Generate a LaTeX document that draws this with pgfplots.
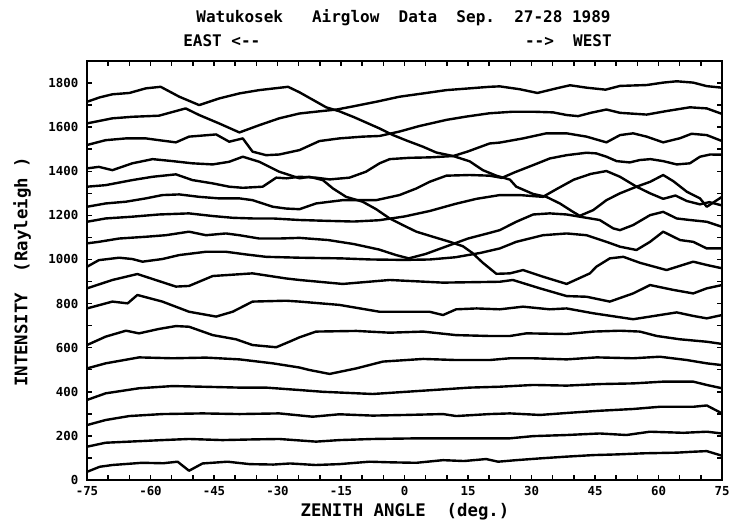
\documentclass[border=0pt]{standalone}
\usepackage{fontspec}
\setmainfont{DejaVu Sans Mono}
\usepackage{pgfplots}
\pgfplotsset{compat=1.18}
\begin{document}
\begin{tikzpicture}[x=1pt,y=1pt]
\useasboundingbox (-65.25,-33.75) rectangle (494.25,360);
\begin{axis}[at={(0,0)}, anchor=south west, scale only axis,
  width=476.25pt, height=314.25pt,
  xmin=-75, xmax=75, ymin=0, ymax=1900,
  xtick={-75,-60,...,75}, xticklabels={-75,-60,-45,-30,-15,0,15,30,45,60,75},
  minor xtick={-70,-65,...,70},
  ytick={0,200,...,1800}, yticklabels={0,200,400,600,800,1000,1200,1400,1600,1800},
  minor ytick={100,300,...,1700},
  tick align=inside, major tick length=4pt, minor tick length=4pt,
  every tick/.style={line width=1.1pt, black},
  axis line style={line width=1.5pt},
  ticklabel style={font=\fontsize{9.3}{10}\selectfont\bfseries},
  yticklabel style={xshift=-3pt},
  xticklabel style={yshift=-1.5pt},
  cycle list={{black,solid}},
  every axis plot/.append style={black, solid, line width=1.8pt, line join=round, no markers},
  clip=true]
% L1
\addplot coordinates {(-75,37) (-72,60) (-69,68) (-62,78) (-57,76) (-53.6,83) (-50.9,42) (-47.7,75) (-41.8,83) (-36.6,72) (-31,70) (-27,75) (-21,68) (-15.4,72) (-8.3,83) (-3,80) (2.8,78) (9.1,90) (14,86) (19.3,95) (22.1,83) (26.4,90) (32,98) (38.3,106) (44.6,113) (50.1,116) (56.4,121) (64.3,124) (68,128) (71.4,131) (75,110)};
% L2
\addplot coordinates {(-75,151) (-70.6,169) (-65,174) (-57.2,181) (-50.9,186) (-43,181) (-35.9,184) (-29.6,186) (-20.9,174) (-15.4,181) (-7.5,186) (3.6,189) (12.2,189) (24.9,189) (30.4,199) (38.3,204) (46.1,211) (52.4,204) (58,219) (65.9,214) (71.4,219) (75,211)};
% L3
\addplot coordinates {(-75,249) (-70.6,272) (-65,290) (-57.2,299) (-47.7,302) (-39,299) (-29.6,302) (-21.7,287) (-15.4,298) (-7.5,292) (0.4,295) (9.1,299) (12.2,290) (20.1,299) (24.9,302) (32,295) (39.1,305) (46.1,314) (54,322) (60.3,332) (68.2,332) (71.4,338) (75,302)};
% L4
\addplot coordinates {(-75,363) (-70.6,393) (-62.7,416) (-54.8,426) (-47.7,423) (-39,419) (-32.7,419) (-24.8,408) (-19.3,400) (-7.5,390) (0.4,400) (9.1,411) (15.4,419) (22.5,423) (30.4,431) (38.3,428) (46.1,435) (54,438) (61.1,446) (68.2,446) (71.4,431) (75,416)};
% L5
\addplot coordinates {(-75,506) (-70.6,529) (-62.7,556) (-54.8,552) (-46.9,555) (-39,547) (-31.1,529) (-24.8,510) (-22.5,499) (-17.7,481) (-11.4,506) (-5.1,537) (4.4,549) (12.2,544) (20.1,544) (24.9,552) (30.4,552) (38.3,547) (45.4,556) (54,552) (60.3,559) (66.7,544) (71.4,529) (75,521)};
% L6
\addplot coordinates {(-75,612) (-70.6,650) (-65.8,677) (-62.7,665) (-58,685) (-54,698) (-50.9,695) (-45.3,657) (-39.8,638) (-35.9,612) (-30.3,602) (-27.2,627) (-24.8,647) (-20.9,673) (-11.4,676) (-3.5,668) (4.4,673) (12.2,657) (20.1,653) (24.9,653) (28.8,665) (38.3,662) (44.6,673) (50.9,677) (55.6,673) (59.6,653) (65.1,638) (71.4,627) (75,617)};
% M2
\addplot coordinates {(-75,778) (-69,809) (-65.4,801) (-63.1,839) (-57.2,809) (-50.9,763) (-44.5,741) (-40.6,763) (-35.9,809) (-28,813) (-24.8,809) (-15.4,794) (-5.9,763) (0.4,763) (5.9,763) (9.1,748) (12.2,774) (17,778) (22.5,774) (28,786) (34.3,774) (38.3,778) (44.6,756) (54,729) (58,741) (64.3,760) (68.2,744) (71.4,733) (75,748)};
% M1
\addplot coordinates {(-75,869) (-69,907) (-63.1,934) (-54,877) (-50.9,880) (-45.3,925) (-35.9,937) (-28,914) (-24.8,907) (-14.6,889) (-3.5,907) (9.1,895) (16,897) (22.5,899) (25.6,907) (32,869) (38.3,834) (43,831) (48.5,809) (54,846) (58,884) (63.5,862) (68.2,846) (71.4,869) (75,884)};
% T9
\addplot coordinates {(-75,967) (-72.2,997) (-67.4,1008) (-64.3,1002) (-61.9,990) (-57.2,1002) (-53.2,1020) (-46.9,1035) (-42.2,1035) (-37.5,1023) (-32.7,1012) (-24.8,1008) (-15,1005) (-8,1000) (0,998) (6,1000) (12,1010) (18,1030) (22.5,1050) (26.4,1080) (32.7,1110) (38.3,1118) (43,1110) (47.7,1080) (50.9,1058) (54.8,1043) (58,1080) (61.1,1126) (65.1,1088) (68.2,1080) (71.4,1050) (75,1050)};
% T8
\addplot coordinates {(-75,1073) (-72.2,1080) (-67.4,1095) (-61.1,1103) (-56.4,1110) (-50.9,1126) (-46.9,1110) (-42.2,1118) (-39,1110) (-34.3,1095) (-29.6,1095) (-24.8,1098) (-18,1088) (-12,1070) (-6,1045) (-2,1020) (1,1005) (5,1025) (10,1060) (15,1095) (20,1120) (22.5,1133) (26.4,1171) (30.4,1204) (34.3,1209) (38.3,1204) (41.4,1194) (46.1,1179) (49.3,1141) (50.9,1133) (54,1156) (58,1201) (61.1,1216) (64.3,1186) (67.4,1179) (71.4,1171) (75,1148)};
% T7
\addplot coordinates {(-75,1171) (-70.6,1186) (-64.3,1194) (-58,1204) (-50.9,1209) (-45.3,1197) (-40.6,1189) (-35.9,1186) (-31.1,1186) (-24.8,1179) (-18,1175) (-12,1172) (-6,1178) (0,1195) (6,1220) (12,1252) (17,1275) (22.5,1292) (27.2,1292) (32.7,1284) (36,1320) (40,1362) (44,1388) (47.7,1401) (50.9,1375) (54.8,1330) (58,1300) (61.1,1275) (64,1290) (66.7,1265) (69.8,1250) (72,1260) (75,1245)};
% T6
\addplot coordinates {(-75,1239) (-70.6,1254) (-65.8,1262) (-61.1,1277) (-57.2,1292) (-53.2,1295) (-48.5,1284) (-43.8,1277) (-39,1277) (-35.9,1269) (-31.1,1239) (-28,1231) (-24.8,1228) (-20.9,1254) (-14.6,1269) (-6.7,1269) (-1.2,1292) (2.8,1322) (5.9,1352) (9.9,1380) (15.4,1383) (20.1,1380) (23,1370) (26,1395) (30.4,1428) (34.3,1458) (38.3,1473) (43,1484) (45.3,1481) (47.7,1466) (50.1,1446) (53.2,1440) (55.6,1451) (58.1,1455) (61.1,1446) (64.3,1431) (67.4,1436) (69.8,1466) (72.2,1476) (75,1475)};
% T5
\addplot coordinates {(-75,1330) (-70.6,1337) (-64.3,1360) (-59.5,1375) (-54,1386) (-50.1,1360) (-45.3,1345) (-41.4,1330) (-38.2,1325) (-33.5,1330) (-30.3,1371) (-27.9,1368) (-24.8,1375) (-20.9,1371) (-17.7,1363) (-13,1371) (-9.1,1398) (-5.9,1436) (-3.5,1455) (1.2,1461) (6,1463) (11.5,1469) (15,1490) (20.1,1526) (22.5,1530) (28,1549) (33.5,1572) (38.3,1572) (43,1557) (47.7,1531) (50.9,1564) (54,1572) (57.2,1557) (61.1,1531) (65.1,1550) (67.8,1570) (71.4,1564) (75,1537)};
% T4
\addplot coordinates {(-75,1413) (-72.2,1420) (-69,1405) (-64.3,1436) (-59.5,1455) (-54.8,1446) (-50.1,1436) (-45.3,1431) (-41.4,1443) (-38.2,1466) (-34.3,1443) (-29.6,1398) (-24.8,1368) (-22.5,1375) (-19.3,1360) (-16.9,1322) (-13.8,1284) (-9.9,1262) (-6.7,1228) (-3.5,1186) (-0.4,1156) (2.8,1126) (6.7,1103) (10.7,1080) (13.8,1060) (16,1030) (18.5,985) (21.7,935) (24.9,937) (28,952) (32.7,922) (38.3,889) (43.8,937) (45.3,967) (48.5,1005) (51.7,1012) (55.6,985) (61.9,952) (68.2,990) (71.4,975) (75,960)};
% T3
\addplot coordinates {(-75,1519) (-70.6,1541) (-65.8,1549) (-61.1,1549) (-58,1541) (-54,1531) (-50.9,1557) (-44.5,1567) (-41.4,1534) (-38.2,1549) (-35.9,1489) (-32.7,1473) (-29.6,1476) (-24.8,1496) (-20.1,1537) (-15.4,1549) (-9.9,1557) (-5.9,1560) (-1.2,1580) (3.5,1605) (9.9,1633) (14.6,1648) (20.1,1663) (25.6,1670) (30.4,1670) (35.1,1667) (38.3,1655) (41,1650) (44,1665) (47.7,1680) (50.9,1665) (57.2,1657) (61.9,1673) (67.4,1690) (71.4,1685) (75,1660)};
% T2
\addplot coordinates {(-75,1617) (-69,1640) (-64.3,1647) (-58,1652) (-51.7,1685) (-48.5,1655) (-43.8,1617) (-39,1576) (-34.3,1609) (-29.6,1640) (-24.8,1662) (-20,1672) (-16,1680) (-11.4,1697) (-6.7,1715) (-1.2,1738) (4.4,1753) (9.9,1768) (15.4,1776) (20.1,1783) (22.5,1785) (27.2,1772) (31.4,1755) (35.9,1776) (39.1,1790) (43,1779) (47.5,1770) (50.9,1787) (57.2,1791) (61.1,1802) (64.3,1808) (68.2,1802) (71.4,1786) (75,1779)};
% T1
\addplot coordinates {(-75,1715) (-72,1735) (-69,1749) (-65,1755) (-61.1,1776) (-57.6,1783) (-53.2,1738) (-48.5,1700) (-43.8,1730) (-39,1753) (-34.3,1768) (-27.5,1783) (-24.8,1758) (-18.5,1690) (-15.4,1672) (-11.9,1645) (-6,1595) (-2.7,1564) (0.4,1540) (4.4,1511) (7.5,1485) (11.5,1469) (15.4,1445) (18.5,1405) (21.7,1380) (24.9,1362) (26.4,1330) (30.4,1297) (33.5,1284) (36.7,1254) (39.8,1216) (41.4,1198) (44.6,1224) (47.7,1269) (50.9,1300) (54.8,1330) (58,1352) (61.1,1383) (63.5,1355) (66.7,1307) (69.8,1277) (71.4,1239) (75,1284)};
\end{axis}
\begin{scope}[font=\fontsize{12}{14}\selectfont\bfseries]
\node at (237.4,346.5) {Watukosek~~~Airglow~~Data~~Sep.~~27{-}28~1989};
\node[anchor=west, inner sep=0pt] at (72,329.25) {EAST~<{-}{-}};
\node[anchor=east, inner sep=0pt] at (393.75,329.25) {{-}{-}>~~WEST};
\end{scope}
\node[font=\fontsize{13}{15}\selectfont\bfseries] at (238.5,-24) {ZENITH~ANGLE~~(deg.)};
\node[font=\fontsize{13}{15}\selectfont\bfseries, rotate=90] at (-48.75,156) {INTENSITY~~(Rayleigh~)};
\end{tikzpicture}
\end{document}
